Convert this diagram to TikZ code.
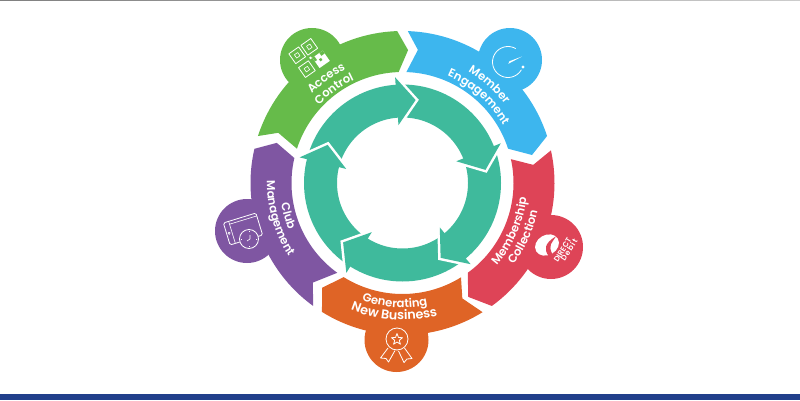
\documentclass[tikz,border=0pt]{standalone}
\usepackage{fontspec}
\setmainfont{Poppins}
\newfontfamily\bandfam{Poppins SemiBold}
\usetikzlibrary{decorations.text}
\definecolor{ringteal}{HTML}{3FBA9C}
\definecolor{bandgreen}{HTML}{66BB4A}
\definecolor{bandblue}{HTML}{3DB6EE}
\definecolor{bandred}{HTML}{DE4457}
\definecolor{bandorange}{HTML}{DF6426}
\definecolor{bandpurple}{HTML}{7F56A2}
\definecolor{barblue}{HTML}{213F8B}
\newcommand{\bandfont}{\bandfam\fontsize{11.6}{12}\selectfont}
\newcommand{\bandfontwide}{\bandfam\fontsize{12.8}{13}\selectfont}
\begin{document}
\begin{tikzpicture}[
	x=1pt, y=1pt,
	icon/.style={draw=white, line width=0.8pt, line join=round},
	cwtext/.style={decorate, decoration={text along path, text align=center, text color=white, text={#1}}},
	]
	\useasboundingbox (0,0) rectangle (800,400);
	\shade[left color=gray, right color=gray!40] (0,399.3) rectangle (800,400);
	\fill[barblue] (0,0) rectangle (800,6);

	% outer band with its five bumps
	\begin{scope}[shift={(402.5,217)}]
		\fill[bandgreen] (92:152) arc[start angle=92, end angle=162, radius=152] -- (158:134) -- (162:111)
			arc[start angle=162, end angle=92, radius=111] -- (87.6:133) -- cycle;
		\fill[bandblue] (18:152) arc[start angle=18, end angle=88, radius=152] -- (83.4:134) -- (88:111)
			arc[start angle=88, end angle=18, radius=111] -- (12.2:132.5) -- cycle;
		\fill[bandred] (-54:152) arc[start angle=-54, end angle=12.4, radius=152] -- (7.9:132) -- (12.4:111)
			arc[start angle=12.4, end angle=-54, radius=111] -- (-60:131.5) -- cycle;
		\fill[bandorange] (238:152) arc[start angle=238, end angle=301.8, radius=152] -- (297.4:130) -- (301.8:111)
			arc[start angle=301.8, end angle=238, radius=111] -- (232.5:132) -- cycle;
		\fill[bandpurple] (167:152) arc[start angle=167, end angle=234, radius=152] -- (228:134) -- (234:111)
			arc[start angle=234, end angle=167, radius=111] -- (162.3:132) -- cycle;
	\end{scope}
	\fill[bandgreen] (312,340) circle (32);
	\fill[bandblue] (510,340) circle (32);
	\fill[bandpurple] (247,169) circle (32);
	\fill[bandorange] (396.5,60) circle (32);
	\fill[bandred] (551,153) circle (32);

	% inner ring and its arrow heads
	\begin{scope}[shift={(402.5,217)}]
		\fill[ringteal, even odd rule] (0,0) circle (98.5) (0,0) circle (65.5);
		\foreach \headangle in {94,22,-50,-122,166} {
			\draw[white, line width=5pt, miter limit=10] (\headangle:106) -- (\headangle-13:84) -- (\headangle:58);
			\fill[ringteal] (\headangle:106) -- (\headangle-13:84) -- (\headangle:58) -- cycle;
		}
		% labels
		\path[cwtext={|\bandfont|Access}] (156:127) arc[start angle=156, end angle=96, radius=127];
		\path[cwtext={|\bandfont|Control}] (156:114) arc[start angle=156, end angle=96, radius=114];
		\path[cwtext={|\bandfont|Member}] (83:129) arc[start angle=83, end angle=14, radius=129];
		\path[cwtext={|\bandfont|Engagement}] (83:116) arc[start angle=83, end angle=14, radius=116];
		\path[cwtext={|\bandfont|Membership}] (-58:125) arc[start angle=-58, end angle=10, radius=125];
		\path[cwtext={|\bandfont|Collection}] (-58:138) arc[start angle=-58, end angle=10, radius=138];
		\path[cwtext={|\bandfont|Generating}] (236:124.5) arc[start angle=236, end angle=296.6, radius=124.5];
		\path[cwtext={|\bandfontwide|New Business}] (236:137) arc[start angle=236, end angle=296.6, radius=137];
		\path[cwtext={|\bandfont|Club}] (163:123) arc[start angle=163, end angle=229, radius=123];
		\path[cwtext={|\bandfont|Management}] (163:135.5) arc[start angle=163, end angle=229, radius=135.5];
	\end{scope}

	% access control
	\begin{scope}[shift={(308.5,342.5)}, rotate=35]
		\foreach \qrx/\qry in {-8/8.3, 6.8/8.3, -8/-8.6} {
			\draw[icon] (\qrx-6,\qry-6) rectangle (\qrx+6,\qry+6);
			\draw[icon, line width=0.6pt] (\qrx-2,\qry-2) rectangle (\qrx+2,\qry+2);
		}
		\fill[white] (3,-15) rectangle (15.5,-2.5);
		\fill[bandgreen] (7.5,-10) rectangle (10,-7.5);
		\fill[bandgreen] (11.5,-6) rectangle (15.5,-2.5);
		\fill[bandgreen] (3,-7) rectangle (5.5,-2.5);
		\fill[white] (0.5,-2.5) rectangle (2.5,-0.5);
	\end{scope}

	% member engagement
	\draw[icon] (508,338) ++(60:15.5) arc[start angle=60, end angle=330, radius=15.5];
	\fill[white] (508.3,336.2) -- (522,343.5) -- (509.5,338.8) -- cycle;
	\fill[white] (523,333) circle (1.7);

	% club management
	\begin{scope}[shift={(243,171)}, rotate=17]
		\draw[icon, rounded corners=1.5pt] (-17,-11.5) rectangle (17,11.5);
		\draw[icon, line width=0.6pt] (-11.5,-11.5) -- (-11.5,11.5);
		\draw[icon, line width=0.6pt] (-11.5,8.5) -- (17,8.5);
		\draw[icon, line width=0.6pt] (-14.5,0) circle (1.1);
	\end{scope}
	\filldraw[icon, fill=bandpurple] (249,161) circle (9.5);
	\draw[icon, line width=0.6pt] (250,161) -- (250,165) (250,161) -- (247,159);
	\draw[icon, line width=0.6pt] (249,169) -- (249,168) (249,153) -- (249,154) (241,161) -- (242,161) (257,161) -- (256,161);

	% generating new business
	\draw[icon] (397,61) circle (11);
	\draw[icon] (397,66.5) -- (398.5,62.5) -- (402.5,62.3) -- (399.3,59.7) -- (400.4,55.8) -- (397,58) -- (393.6,55.8) -- (394.7,59.7) -- (391.5,62.3) -- (395.5,62.5) -- cycle;
	\draw[icon] (388,52) -- (380.5,42) -- (386,41.5) -- (388.5,38) -- (395,49.5);
	\draw[icon] (404.5,52) -- (412,41.5) -- (407,41) -- (404,37.5) -- (398.5,49);

	% membership collection
	\begin{scope}[shift={(547,155)}, rotate=30]
		\fill[white] (0,0) ellipse (12.5 and 10);
		\fill[bandred] (-4,-10.5) .. controls (-5,-3) and (-2,3) .. (12,3) .. controls (5,-1) and (1,0) .. (0,-10.5) -- cycle;
	\end{scope}
	\node[text=white, rotate=58, font=\bandfam\fontsize{7.5}{7.5}\selectfont] (directlabel) at (562.5,150) {DIRECT};
	\node[text=white, rotate=58, font=\bandfam\fontsize{7.5}{7.5}\selectfont\addfontfeatures{LetterSpace=15}] (debitlabel) at (569,150) {Debit};
\end{tikzpicture}
\end{document}
